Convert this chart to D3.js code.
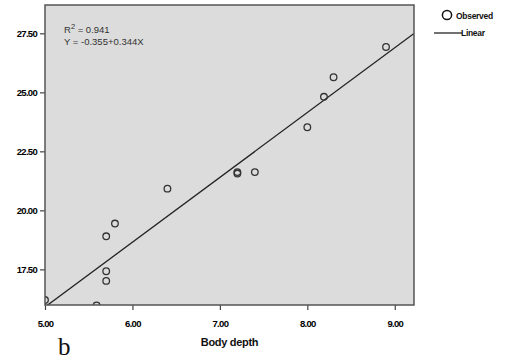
<!DOCTYPE html>
<html>
<head>
<meta charset="utf-8">
<script src="https://cdn.jsdelivr.net/npm/d3@7"></script>
<style>
  html, body { margin: 0; padding: 0; background: #fff; }
  svg { display: block; }
  .tick text { font-family: "Liberation Sans", Arial, sans-serif; font-weight: bold; font-size: 9.5px; letter-spacing: -0.7px; fill: #000; }
</style>
</head>
<body>
<svg id="chart" width="518" height="363"></svg>
<script>
// Observed body depth (x) against the response (y)
const bodyDepth = [5.00, 5.59, 5.70, 5.70, 5.70, 5.80, 6.40, 7.20, 7.20, 7.40, 8.00, 8.19, 8.30, 8.90];
const observed  = [16.20, 15.97, 17.01, 17.42, 18.90, 19.44, 20.92, 21.56, 21.62, 21.62, 23.52, 24.81, 25.64, 26.92];

const xTicks = [5, 6, 7, 8, 9];
const yTicks = [17.5, 20, 22.5, 25, 27.5];
const fitLabels = ["R", "Y = -0.355+0.344X"];

const svg = d3.select("#chart");
const plot = { left: 45, right: 414, top: 5, bottom: 305 };

const x = d3.scaleLinear().domain([5.0, 9.22]).range([plot.left, plot.right]);
const y = d3.scaleLinear().domain([15.99, 28.70]).range([plot.bottom, plot.top]);

svg.append("defs").append("clipPath").attr("id", "plotClip")
  .append("rect")
  .attr("x", plot.left).attr("y", plot.top)
  .attr("width", plot.right - plot.left).attr("height", plot.bottom - plot.top);

// plot background
svg.append("rect")
  .attr("x", plot.left).attr("y", plot.top)
  .attr("width", plot.right - plot.left).attr("height", plot.bottom - plot.top)
  .attr("fill", "#dcdcdc");

// axes
const xAxis = svg.append("g")
  .attr("transform", `translate(0,${plot.bottom})`)
  .call(d3.axisBottom(x).tickValues(xTicks).tickFormat(d3.format(".2f")).tickSize(5).tickPadding(10));
const yAxis = svg.append("g")
  .attr("transform", `translate(${plot.left},0)`)
  .call(d3.axisLeft(y).tickValues(yTicks).tickFormat(d3.format(".2f")).tickSize(5).tickPadding(3));
[xAxis, yAxis].forEach(g => {
  g.select(".domain").remove();
  g.selectAll(".tick line").attr("stroke", "#444").attr("stroke-width", 1.2);
});

// least-squares fit line
const mx = d3.mean(bodyDepth), my = d3.mean(observed);
const sxy = d3.sum(bodyDepth, (d, i) => (d - mx) * (observed[i] - my));
const sxx = d3.sum(bodyDepth, d => (d - mx) * (d - mx));
const slope = sxy / sxx, intercept = my - slope * mx;
const xd = x.domain();

const inner = svg.append("g").attr("clip-path", "url(#plotClip)");
inner.append("line")
  .attr("x1", x(xd[0])).attr("y1", y(intercept + slope * xd[0]))
  .attr("x2", x(xd[1])).attr("y2", y(intercept + slope * xd[1]))
  .attr("stroke", "#222").attr("stroke-width", 1.3);

inner.selectAll("circle.obs")
  .data(bodyDepth.map((d, i) => [d, observed[i]]))
  .join("circle")
  .attr("class", "obs")
  .attr("cx", d => x(d[0])).attr("cy", d => y(d[1]))
  .attr("r", 3.3)
  .attr("fill", "none").attr("stroke", "#333").attr("stroke-width", 1.3);

// frame
svg.append("rect")
  .attr("x", plot.left).attr("y", plot.top)
  .attr("width", plot.right - plot.left).attr("height", plot.bottom - plot.top)
  .attr("fill", "none").attr("stroke", "#555").attr("stroke-width", 1.5);

// fit summary
const r2 = svg.append("text")
  .attr("x", 64).attr("y", 33)
  .attr("font-family", "Liberation Sans, Arial, sans-serif").attr("font-size", 9.5).attr("fill", "#333");
r2.append("tspan").text(fitLabels[0]);
r2.append("tspan").attr("dy", -4).attr("font-size", 7.5).text("2");
r2.append("tspan").attr("dy", 4).text(" = 0.941");
svg.append("text")
  .attr("x", 64).attr("y", 44.5)
  .attr("font-family", "Liberation Sans, Arial, sans-serif").attr("font-size", 9.5).attr("fill", "#333")
  .text(fitLabels[1]);

// legend
svg.append("circle").attr("cx", 447).attr("cy", 15).attr("r", 4.6)
  .attr("fill", "none").attr("stroke", "#111").attr("stroke-width", 1.5);
svg.append("text").attr("x", 456).attr("y", 18.5)
  .attr("font-family", "Liberation Sans, Arial, sans-serif").attr("font-weight", "bold")
  .attr("font-size", 8.5).attr("letter-spacing", -0.3).attr("fill", "#111").text("Observed");
svg.append("line").attr("x1", 434).attr("x2", 462).attr("y1", 33).attr("y2", 33)
  .attr("stroke", "#111").attr("stroke-width", 1.2);
svg.append("text").attr("x", 461).attr("y", 36)
  .attr("font-family", "Liberation Sans, Arial, sans-serif").attr("font-weight", "bold")
  .attr("font-size", 8.5).attr("letter-spacing", -0.3).attr("fill", "#111").text("Linear");

// axis title and panel letter
svg.append("text").attr("x", (plot.left + plot.right) / 2).attr("y", 346)
  .attr("text-anchor", "middle")
  .attr("font-family", "Liberation Sans, Arial, sans-serif").attr("font-weight", "bold")
  .attr("font-size", 11).attr("letter-spacing", -0.3).attr("fill", "#111").text("Body depth");
svg.append("text").attr("x", 58).attr("y", 355)
  .attr("font-family", "Liberation Serif, Times New Roman, serif")
  .attr("font-size", 25).attr("fill", "#111").text("b");
</script>
</body>
</html>
